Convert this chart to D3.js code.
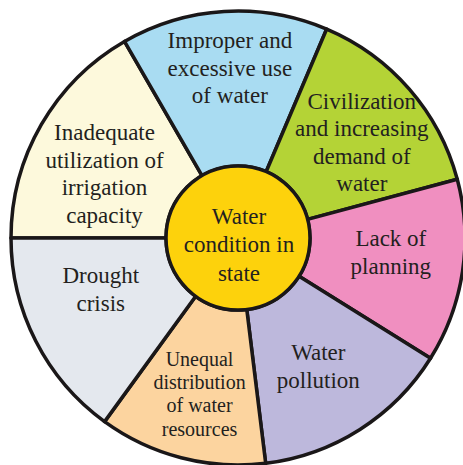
<!DOCTYPE html>
<html>
<head>
	<meta charset="utf-8">
	<script src="https://d3js.org/d3.v7.min.js"></script>
</head>
<body style="margin:0">
	<svg width="463" height="465"></svg>

<script>
// ---- data ------------------------------------
// segments clockwise, starting at 9 o'clock
var causes = [
	['Inadequate', 'utilization of', 'irrigation', 'capacity'],
	['Improper and', 'excessive use', 'of water'],
	['Civilization', 'and increasing', 'demand of', 'water'],
	['Lack of', 'planning'],
	['Water', 'pollution'],
	['Unequal', 'distribution', 'of water', 'resources'],
	['Drought', 'crisis']
];
// share of the wheel each segment takes (degrees)
var shares = [60, 53, 52, 47, 51, 43, 54];
var centreLabel = ['Water', 'condition in', 'state'];

// ---- layout / style ------------------------------------
var colours = ['#fdf9dc', '#a9dcf2', '#b4d336', '#f08fc0', '#bdb8dc', '#fcd49f', '#e4e8ee'];
var centreColour = '#fdd20c';
var fontSizes = [23, 23, 23, 23, 23, 20, 23];
// small nudges of each label away from the arc centroid
var nudge = [[-4, 10], [1, -21], [11, 2], [5, -8], [0, 2], [-1, 11], [-4, -17]];

var cx = 238, cy = 238;
var outerR = 227, innerR = 72;

var svg = d3.select('svg');
var g = svg.append('g').attr('transform', 'translate(' + cx + ',' + cy + ')');

var pie = d3.pie()
	.sort(null)
	.startAngle(-Math.PI / 2)
	.endAngle(3 * Math.PI / 2)
	.value(function(d) { return d; });

var arc = d3.arc()
	.innerRadius(innerR)
	.outerRadius(outerR);

var arcs = pie(shares);

g.selectAll('path')
	.data(arcs)
	.enter()
	.append('path')
	.attr('d', arc)
	.style('fill', function(d, i) { return colours[i]; })
	.style('stroke', '#1a1718')
	.style('stroke-width', 3.5)
	.style('stroke-linejoin', 'round');

g.append('circle')
	.attr('r', innerR)
	.style('fill', centreColour)
	.style('stroke', '#1a1718')
	.style('stroke-width', 3.5);

// one text element per line, centred on (x, y)
function addLines(x, y, lines, fs, lh) {
	var top = y - (lines.length - 1) * lh / 2 + 0.35 * fs;
	lines.forEach(function(line, i) {
		svg.append('text')
			.attr('x', x)
			.attr('y', top + i * lh)
			.style('font-family', '"Liberation Serif", monospace')
			.style('font-size', fs + 'px')
			.style('fill', '#231f20')
			.style('text-anchor', 'middle')
			.text(line);
	});
}

arcs.forEach(function(d, i) {
	var c = arc.centroid(d);
	var fs = fontSizes[i];
	addLines(cx + c[0] + nudge[i][0], cy + c[1] + nudge[i][1], causes[i], fs, fs === 20 ? 23.3 : 27.5);
});

addLines(cx + 1, cy + 6, centreLabel, 23, 28.5);
</script>
</body>
</html>
